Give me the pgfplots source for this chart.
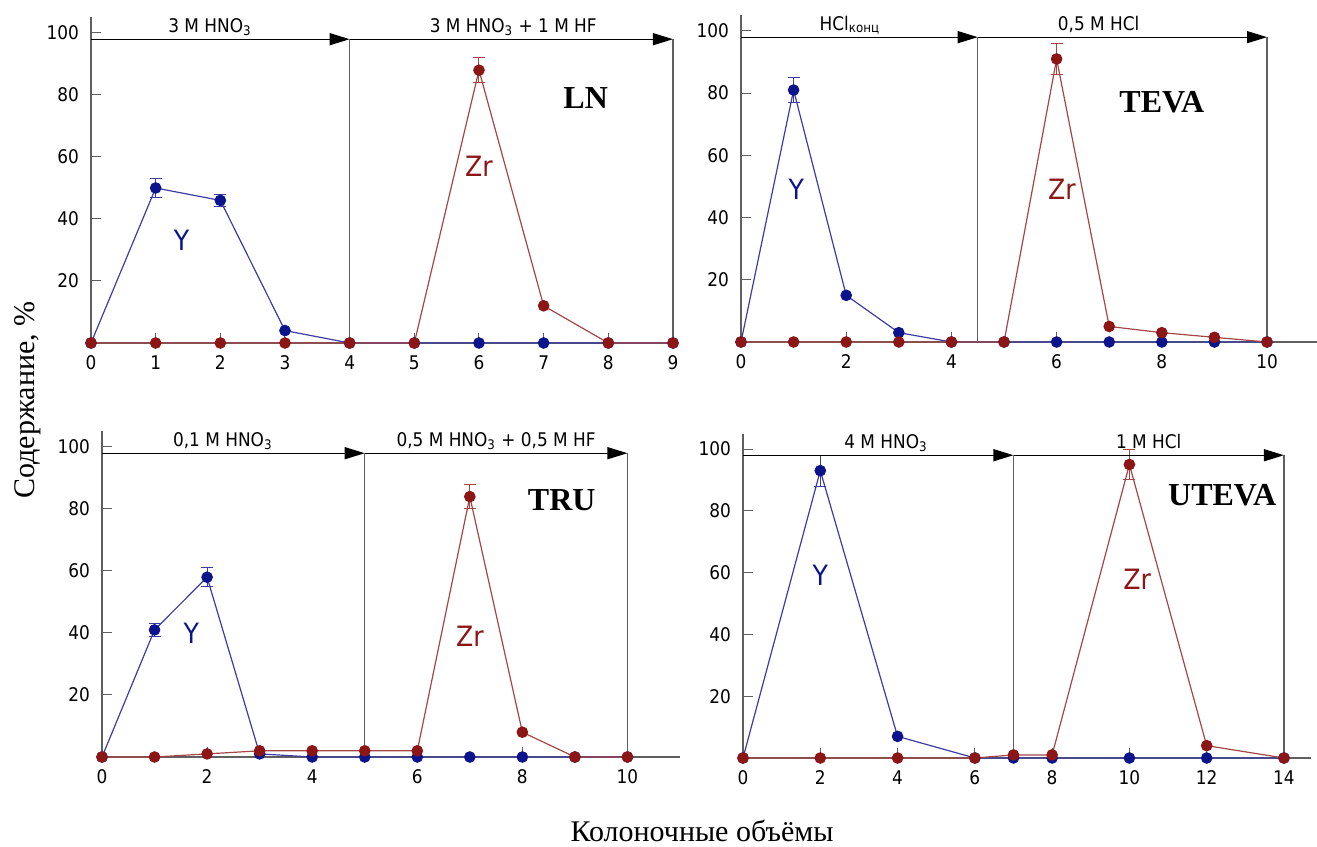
\documentclass[border=0pt]{standalone}
\usepackage{pgfplots}
\pgfplotsset{compat=1.18}
\usepackage{fontspec}
\setmainfont{DejaVu Sans}[FakeStretch=0.9]
\newfontfamily\serif{Liberation Serif}
\usetikzlibrary{arrows.meta}
\definecolor{yb}{RGB}{12,20,140}
\definecolor{ybl}{RGB}{60,60,165}
\definecolor{zr}{RGB}{140,22,22}
\definecolor{zrl}{RGB}{165,70,70}
\definecolor{ax}{RGB}{95,95,95}
\newcommand\tf{\fontsize{9.4bp}{11bp}\selectfont}
\newcommand\lf{\fontsize{14bp}{16bp}\selectfont}
\newcommand\pf{\fontsize{16bp}{18bp}\selectfont\serif\bfseries}
\pgfplotsset{
 panel/.style={scale only axis, axis lines=left,
   axis line style={draw=ax, line width=0.6bp, -},
   ymin=0, ymax=105, ytick={20,40,60,80,100},
   tick align=inside, tick style={draw=ax, line width=0.5bp},
   major tick length=5bp, clip=false, anchor=south west,
   tick label style={font=\tf},
   xticklabel style={yshift=-3bp},
   yticklabel style={xshift=-2.5bp},
   /pgf/number format/assume math mode=true},
 Yser/.style={color=ybl, line width=0.6bp, mark=*, mark size=2.6bp, mark options={draw=yb, fill=yb}},
 Zser/.style={color=zrl, line width=0.6bp, mark=*, mark size=2.6bp, mark options={draw=zr, fill=zr}},
 Yerr/.style={draw=none, mark=none, forget plot, error bars/.cd, y dir=both, y explicit,
   error bar style={ybl, line width=0.5bp}, error mark options={rotate=90, mark size=3bp, ybl, line width=0.5bp}},
 Zerr/.style={draw=none, mark=none, forget plot, error bars/.cd, y dir=both, y explicit,
   error bar style={zrl, line width=0.5bp}, error mark options={rotate=90, mark size=3bp, zrl, line width=0.5bp}},
}
\tikzset{arr/.style={black, line width=0.6bp, -{Triangle[length=10bp,width=6bp]}},
 sep/.style={draw=ax, line width=0.6bp}}
\begin{document}
\begin{tikzpicture}
\useasboundingbox (0,0) rectangle (658.5bp,423.5bp);
% ---------------- LN
\begin{axis}[panel, at={(45.5bp,252bp)}, width=291bp, height=162.75bp,
  xmin=0, xmax=9, xtick={0,...,9}]
\addplot[Yser] coordinates {(0,0) (1,50) (2,46) (3,4) (4,0) (5,0) (6,0) (7,0) (8,0) (9,0)};
\addplot[Yerr] coordinates {(1,50) +- (0,3) (2,46) +- (0,2)};
\addplot[Zser] coordinates {(0,0) (1,0) (2,0) (3,0) (4,0) (5,0) (6,88) (7,12) (8,0) (9,0)};
\addplot[Zerr] coordinates {(6,88) +- (0,4)};
\draw[arr] (axis cs:0,98) -- (axis cs:4,98);
\draw[arr] (axis cs:4,98) -- (axis cs:9,98);
\draw[sep] (axis cs:4,98) -- (axis cs:4,0);
\draw[sep] (axis cs:9,98) -- (axis cs:9,0);
\node[anchor=base, yshift=3.5bp, font=\tf] at (axis cs:1.84,98) {3 M HNO\textsubscript{3}};
\node[anchor=base, yshift=3.5bp, font=\tf] at (axis cs:6.53,98) {3 M HNO\textsubscript{3} + 1 M HF};
\node[font=\lf, text=yb] at (axis cs:1.4,33) {Y};
\node[font=\lf, text=zr] at (axis cs:6,57) {Zr};
\node[font=\pf] at (axis cs:7.65,79) {LN};
\end{axis}
% ---------------- TEVA
\begin{axis}[panel, at={(370.5bp,252.5bp)}, width=288bp, height=163.3bp,
  xmin=0, xmax=10.95, xtick={0,2,...,10}]
\addplot[Yser] coordinates {(0,0) (1,81) (2,15) (3,3) (4,0) (5,0) (6,0) (7,0) (8,0) (9,0) (10,0)};
\addplot[Yerr] coordinates {(1,81) +- (0,4)};
\addplot[Zser] coordinates {(0,0) (1,0) (2,0) (3,0) (4,0) (5,0) (6,91) (7,5) (8,3) (9,1.5) (10,0)};
\addplot[Zerr] coordinates {(6,91) +- (0,5)};
\draw[arr] (axis cs:0,98) -- (axis cs:4.5,98);
\draw[arr] (axis cs:4.5,98) -- (axis cs:10,98);
\draw[sep] (axis cs:4.5,98) -- (axis cs:4.5,0);
\draw[sep] (axis cs:10,98) -- (axis cs:10,0);
\node[anchor=base, yshift=3.5bp, font=\tf] at (axis cs:2.07,98) {HCl\textsubscript{конц}};
\node[anchor=base, yshift=3.5bp, font=\tf] at (axis cs:6.8,98) {0,5 M HCl};
\node[font=\lf, text=yb] at (axis cs:1.05,49) {Y};
\node[font=\lf, text=zr] at (axis cs:6.1,49) {Zr};
\node[font=\pf] at (axis cs:8.0,77) {TEVA};
\end{axis}
% ---------------- TRU
\begin{axis}[panel, at={(51bp,45bp)}, width=289bp, height=162.75bp,
  xmin=0, xmax=11, xtick={0,2,...,10}]
\addplot[Yser] coordinates {(0,0) (1,41) (2,58) (3,1) (4,0) (5,0) (6,0) (7,0) (8,0) (9,0) (10,0)};
\addplot[Yerr] coordinates {(1,41) +- (0,2) (2,58) +- (0,3)};
\addplot[Zser] coordinates {(0,0) (1,0) (2,1) (3,2) (4,2) (5,2) (6,2) (7,84) (8,8) (9,0) (10,0)};
\addplot[Zerr] coordinates {(7,84) +- (0,4)};
\draw[arr] (axis cs:0,98) -- (axis cs:5,98);
\draw[arr] (axis cs:5,98) -- (axis cs:10,98);
\draw[sep] (axis cs:5,98) -- (axis cs:5,0);
\draw[sep] (axis cs:10,98) -- (axis cs:10,0);
\node[anchor=base, yshift=3.5bp, font=\tf] at (axis cs:2.3,98) {0,1 M HNO\textsubscript{3}};
\node[anchor=base, yshift=3.5bp, font=\tf] at (axis cs:7.5,98) {0,5 M HNO\textsubscript{3} + 0,5 M HF};
\node[font=\lf, text=yb] at (axis cs:1.7,40) {Y};
\node[font=\lf, text=zr] at (axis cs:7,39) {Zr};
\node[font=\pf] at (axis cs:8.75,83) {TRU};
\end{axis}
% ---------------- UTEVA
\begin{axis}[panel, at={(371.5bp,44.5bp)}, width=284bp, height=162.2bp,
  xmin=0, xmax=14.7, xtick={0,2,...,14}]
\addplot[Yser] coordinates {(0,0) (2,93) (4,7) (6,0) (7,0) (8,0) (10,0) (12,0) (14,0)};
\addplot[Yerr] coordinates {(2,93) +- (0,5)};
\addplot[Zser] coordinates {(0,0) (2,0) (4,0) (6,0) (7,1) (8,1) (10,95) (12,4) (14,0)};
\addplot[Zerr] coordinates {(10,95) +- (0,5)};
\draw[arr] (axis cs:0,98) -- (axis cs:7,98);
\draw[arr] (axis cs:7,98) -- (axis cs:14,98);
\draw[sep] (axis cs:7,98) -- (axis cs:7,0);
\draw[sep] (axis cs:14,98) -- (axis cs:14,0);
\node[anchor=base, yshift=3.5bp, font=\tf] at (axis cs:3.7,98) {4 M HNO\textsubscript{3}};
\node[anchor=base, yshift=3.5bp, font=\tf] at (axis cs:10.5,98) {1 M HCl};
\node[font=\lf, text=yb] at (axis cs:2,59) {Y};
\node[font=\lf, text=zr] at (axis cs:10.2,58) {Zr};
\node[font=\pf] at (axis cs:12.4,85) {UTEVA};
\end{axis}
\node[rotate=90, font=\fontsize{15bp}{17bp}\selectfont\serif] at (14bp,223.5bp) {Содержание, \%};
\node[font=\fontsize{15bp}{17bp}\selectfont\serif] at (351bp,8bp) {Колоночные объёмы};
\end{tikzpicture}
\end{document}
